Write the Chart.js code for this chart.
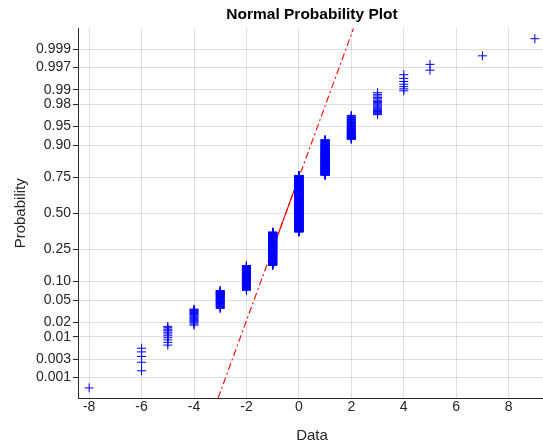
<!DOCTYPE html>
<html>
<head>
<meta charset="utf-8">
<script src="https://cdn.jsdelivr.net/npm/chart.js@4/dist/chart.umd.min.js"></script>
<style>
  html, body { margin: 0; padding: 0; background: #fff; overflow: hidden; }
</style>
</head>
<body>
<canvas id="chart" width="552" height="447"></canvas>
<script>
// distinct sample values and how many samples take each one (n = 1000)
const dataValues = [-8, -6, -5, -4, -3, -2, -1, 0, 1, 2, 3, 4, 5, 7, 9];
const dataCounts = [1, 5, 11, 19, 37, 90, 199, 401, 155, 50, 21, 7, 2, 1, 1];

const xTicks = [-8, -6, -4, -2, 0, 2, 4, 6, 8];
const probTicks = [0.001, 0.003, 0.01, 0.02, 0.05, 0.10, 0.25, 0.50, 0.75, 0.90, 0.95, 0.98, 0.99, 0.997, 0.999];
const probLabels = ['0.001', '0.003', '0.01', '0.02', '0.05', '0.10', '0.25', '0.50', '0.75', '0.90', '0.95', '0.98', '0.99', '0.997', '0.999'];

const FONT = "'Liberation Sans', Arial, Helvetica, sans-serif";

// inverse of the standard normal CDF (Acklam's approximation)
function norminv(p) {
    const a = [-3.969683028665376e+01, 2.209460984245205e+02, -2.759285104469687e+02, 1.383577518672690e+02, -3.066479806614716e+01, 2.506628277459239e+00];
    const b = [-5.447609879822406e+01, 1.615858368580409e+02, -1.556989798598866e+02, 6.680131188771972e+01, -1.328068155288572e+01];
    const c = [-7.784894002430293e-03, -3.223964580411365e-01, -2.400758277161838e+00, -2.549732539343734e+00, 4.374664141464968e+00, 2.938163982698783e+00];
    const d = [7.784695709041462e-03, 3.224671290700398e-01, 2.445134137142996e+00, 3.754408661907416e+00];
    const plow = 0.02425;
    let q, r;
    if (p < plow) {
        q = Math.sqrt(-2 * Math.log(p));
        return (((((c[0] * q + c[1]) * q + c[2]) * q + c[3]) * q + c[4]) * q + c[5]) /
            ((((d[0] * q + d[1]) * q + d[2]) * q + d[3]) * q + 1);
    }
    if (p <= 1 - plow) {
        q = p - 0.5;
        r = q * q;
        return (((((a[0] * r + a[1]) * r + a[2]) * r + a[3]) * r + a[4]) * r + a[5]) * q /
            (((((b[0] * r + b[1]) * r + b[2]) * r + b[3]) * r + b[4]) * r + 1);
    }
    q = Math.sqrt(-2 * Math.log(1 - p));
    return -(((((c[0] * q + c[1]) * q + c[2]) * q + c[3]) * q + c[4]) * q + c[5]) /
        ((((d[0] * q + d[1]) * q + d[2]) * q + d[3]) * q + 1);
}

// sorted sample and its plotting positions
const sorted = [];
dataValues.forEach((v, i) => {
    for (let k = 0; k < dataCounts[i]; k++) sorted.push(v);
});
const n = sorted.length;
const points = sorted.map((v, i) => ({ x: v, y: norminv((i + 0.5) / n) }));

function prctile(p) {
    const pos = n * p + 0.5;
    const lo = Math.min(Math.max(Math.floor(pos), 1), n);
    const hi = Math.min(lo + 1, n);
    const f = pos - Math.floor(pos);
    return sorted[lo - 1] + f * (sorted[hi - 1] - sorted[lo - 1]);
}

// reference line through the quartiles
const q1 = prctile(0.25), q3 = prctile(0.75);
const z1 = norminv(0.25), z3 = norminv(0.75);
const slope = (z3 - z1) / (q3 - q1);
const lineAt = (x) => z1 + slope * (x - q1);
const xMin = sorted[0], xMax = sorted[n - 1];
const xPad = (xMax - xMin) * 0.025;

// title centred over the axes, like MATLAB does
const axesTitle = {
    id: 'axesTitle',
    afterDraw(chart) {
        const { ctx, chartArea } = chart;
        ctx.save();
        ctx.font = `bold 15.5px ${FONT}`;
        ctx.fillStyle = '#000';
        ctx.textAlign = 'center';
        ctx.textBaseline = 'middle';
        ctx.fillText('Normal Probability Plot', (chartArea.left + chartArea.right) / 2, 15);
        ctx.restore();
    },
};

new Chart(document.getElementById('chart'), {
    type: 'scatter',
    data: {
        datasets: [
            {
                label: 'data',
                data: points,
                pointStyle: 'cross',
                pointRadius: 4.5,
                pointBorderWidth: 1,
                borderColor: '#0000ff',
                backgroundColor: '#0000ff',
                showLine: false,
            },
            {
                label: 'quartiles',
                data: [{ x: q1, y: z1 }, { x: q3, y: z3 }],
                showLine: true,
                borderColor: '#ff0000',
                borderWidth: 1.1,
                pointRadius: 0,
            },
            {
                label: 'extension',
                data: [{ x: xMin, y: lineAt(xMin) }, { x: xMax, y: lineAt(xMax) }],
                showLine: true,
                borderColor: '#ff0000',
                borderWidth: 1.1,
                borderDash: [7, 3, 2, 3],
                pointRadius: 0,
            },
        ],
    },
    plugins: [axesTitle],
    options: {
        responsive: false,
        animation: false,
        devicePixelRatio: 1,
        layout: { padding: { left: 0, right: 6, top: 28.6, bottom: 0 } },
        plugins: {
            legend: { display: false },
            tooltip: { enabled: false },
            title: { display: false },
        },
        scales: {
            x: {
                type: 'linear',
                min: xMin - xPad,
                max: xMax + xPad,
                afterBuildTicks: (scale) => {
                    scale.ticks = xTicks.map((v) => ({ value: v }));
                },
                afterFit: (scale) => { scale.height = 49; },
                ticks: {
                    color: '#262626',
                    font: { family: FONT, size: 14 },
                    padding: 1,
                    autoSkip: false,
                    maxRotation: 0,
                },
                grid: { color: 'rgba(38,38,38,0.15)', drawTicks: false },
                border: { color: '#262626', width: 1 },
                title: {
                    display: true,
                    text: 'Data',
                    color: '#262626',
                    font: { family: FONT, size: 15 },
                    padding: { top: 0, bottom: 2.5 },
                },
            },
            y: {
                type: 'linear',
                min: norminv(0.25 / n),
                max: norminv(1 - 0.25 / n),
                afterBuildTicks: (scale) => {
                    scale.ticks = probTicks.map((p) => ({ value: norminv(p) }));
                },
                afterFit: (scale) => { scale.width = 78; },
                ticks: {
                    color: '#262626',
                    font: { family: FONT, size: 14 },
                    padding: 2,
                    autoSkip: false,
                    callback: (value, index) => probLabels[index],
                },
                grid: { color: 'rgba(38,38,38,0.15)', tickColor: '#262626', tickLength: 5 },
                border: { color: '#262626', width: 1 },
                title: {
                    display: true,
                    text: 'Probability',
                    color: '#262626',
                    font: { family: FONT, size: 15 },
                    padding: { top: 12, bottom: 0 },
                },
            },
        },
    },
});
</script>
</body>
</html>
